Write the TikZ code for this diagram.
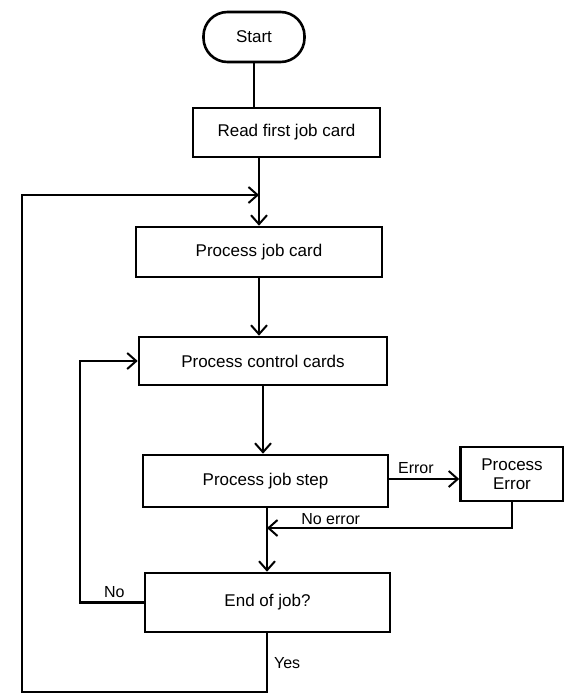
\documentclass[tikz,border=0pt]{standalone}
\usepackage{fontspec}
\setmainfont{Liberation Sans}
\usetikzlibrary{arrows.meta}
\begin{document}
\begin{tikzpicture}[x=1pt,y=-1pt,
  box/.style={draw,line width=2.6pt,inner sep=0pt,font=\fontsize{17}{19}\selectfont},
  term/.style={box,rounded corners=24pt},
  conn/.style={line width=2.2pt},
  arr/.style={conn,-{Straight Barb[length=9pt,width=16pt,line width=2pt]}},
  lbl/.style={font=\fontsize{16}{18}\selectfont,inner sep=1pt}]
\useasboundingbox (0,0) rectangle (564,695);
\node[term,minimum width=101pt,minimum height=50pt] (start) at (254,37) {Start};
\node[box,minimum width=187pt,minimum height=49pt] (read) at (286.5,132.5) {Read first job card};
\node[box,minimum width=246pt,minimum height=50pt] (pjc) at (259,252) {Process job card};
\node[box,minimum width=248pt,minimum height=48pt] (pcc) at (263,361) {Process control cards};
\node[box,minimum width=245pt,minimum height=52pt] (pjs) at (265.5,481) {Process job step};
\node[box,minimum width=103pt,minimum height=54pt,align=center] (perr) at (512,474) {Process\\Error};
\node[box,minimum width=245pt,minimum height=59pt] (eoj) at (267.5,602.5) {End of job?};
\coordinate (j1) at (259,195);
\coordinate (j2) at (267,528);
\coordinate (bl) at (22,692);
\coordinate (nl) at (80,0);
\coordinate (ey) at (0,479);
% connectors
\draw[conn] (start.south) -- (start.south |- read.north);
\draw[arr] (pjc.north |- read.south) -- (pjc.north);
\draw[arr] (pjc.south) -- (pjc.south |- pcc.north);
\draw[arr] (pcc.south) -- (pcc.south |- pjs.north);
\draw[arr] (pjs.east |- ey) -- (perr.west |- ey) node[lbl,pos=0.38,above=3pt] (err) {Error};
\draw[conn] (pjs.south -| j2) -- (j2);
\draw[arr] (perr.south) |- (j2) node[lbl,pos=0.87,above=1pt] (noerr) {No error};
\draw[arr] (j2) -- (j2 |- eoj.north);
\draw[arr] (eoj.west) -| (nl |- pcc.west) node[lbl,pos=0.23,above=3pt] (no) {No} -- (pcc.west);
\draw[arr] (eoj.south -| j2) -- (j2 |- bl) node[lbl,midway,right=5pt] (yes) {Yes} -- (bl) |- (j1);
\end{tikzpicture}
\end{document}
